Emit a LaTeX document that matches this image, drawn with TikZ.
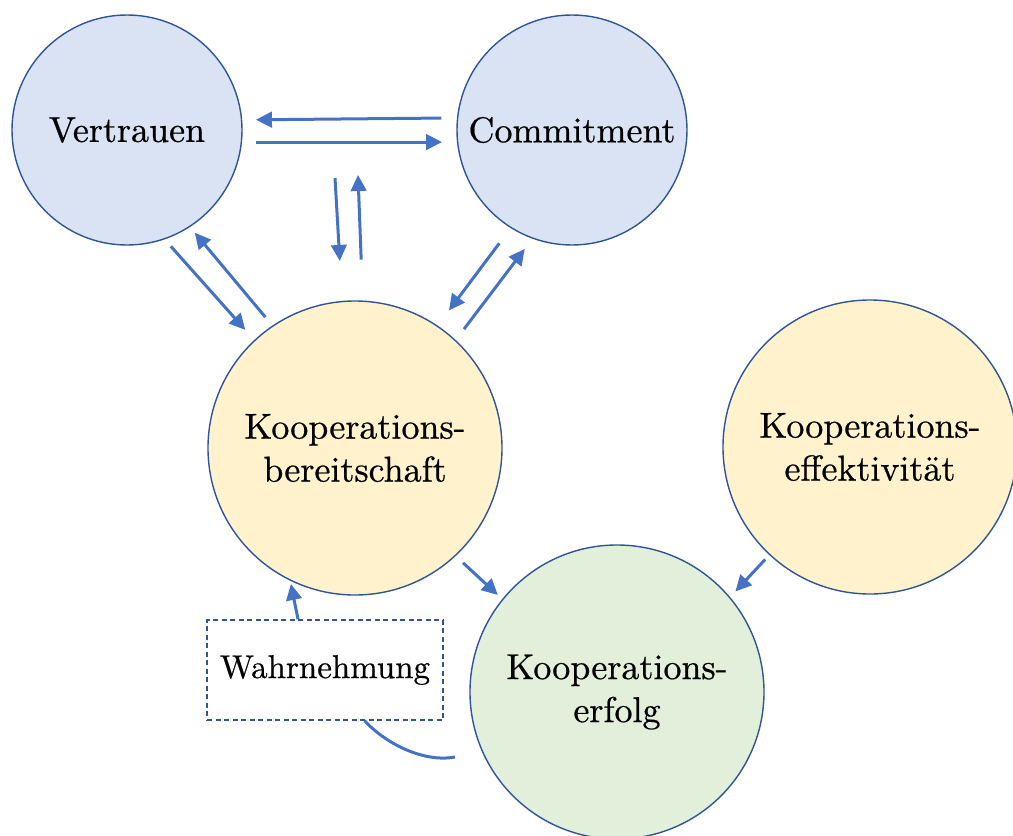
\documentclass[tikz,border=0pt]{standalone}
\usepackage{fontspec}
\usetikzlibrary{arrows.meta,calc}
\newfontfamily\labelfont{lmroman10-regular}[Extension=.otf, FakeBold=0.6]
\definecolor{linkblue}{HTML}{4472C4}
\definecolor{rimblue}{HTML}{2F5597}
\definecolor{fillblue}{HTML}{DAE3F3}
\definecolor{fillyellow}{HTML}{FFF2CC}
\definecolor{fillgreen}{HTML}{E2EFDA}
\begin{document}
\begin{tikzpicture}[x=1pt,y=-1pt,
  bubble/.style={circle, draw=rimblue, line width=1.4pt, inner sep=0pt,
    align=center, font=\labelfont\fontsize{36}{43}\selectfont},
  small/.style={bubble, minimum size=230pt},
  big/.style={bubble, minimum size=294pt},
  link/.style={draw=linkblue, line width=3pt, -{Triangle[length=16pt,width=15.5pt]}},
  plain/.style={draw=linkblue, line width=3pt},
  notebox/.style={draw=rimblue, dash pattern=on 5pt off 3.5pt, line width=1.4pt,
    minimum width=236pt, minimum height=100pt, inner sep=0pt,
    font=\labelfont\fontsize{33}{40}\selectfont}]
\useasboundingbox (0,0) rectangle (1013,836);

% concepts
\node[small, fill=fillblue] (vertrauen) at (127,130) {Vertrauen};
\node[small, fill=fillblue] (commitment) at (572,130) {Commitment};
\node[big, fill=fillyellow] (bereit) at (355,448) {Kooperations-\\bereitschaft};
\node[big, fill=fillyellow] (effekt) at (870,447) {Kooperations-\\effektivität};
\node[big, fill=fillgreen] (erfolg) at (617,692) {Kooperations-\\erfolg};
\node[notebox] (wahr) at (325,670) {Wahrnehmung};

% free ends between the top pair and Kooperationsbereitschaft
\coordinate (pairdown) at (335,178);
\coordinate (pairup) at (358,175);
\coordinate (feedback) at (455,757);

% Vertrauen <-> Commitment
\draw[link, shorten <=15.6pt, shorten >=13.7pt] (commitment.174.3) -- (vertrauen.5.8);
\draw[link, shorten <=13.9pt, shorten >=14.9pt] (vertrauen.-6.7) -- (commitment.186.6);

% pair <-> Kooperationsbereitschaft
\draw[link, shorten >=40pt] (pairdown) -- (bereit.95.5);
\draw[link, shorten <=41pt] (bereit.87.9) -- (pairup);

% Vertrauen <-> Kooperationsbereitschaft
\draw[link, shorten <=9.3pt, shorten >=13.5pt] (vertrauen.-71.7) -- (bereit.133.7);
\draw[link, shorten <=11pt, shorten >=7.3pt] (bereit.124.7) -- (vertrauen.-57.3);

% Commitment <-> Kooperationsbereitschaft
\draw[link, shorten <=19pt, shorten >=18.9pt] (commitment.-122.5) -- (bereit.56.3);
\draw[link, shorten <=13.6pt, shorten >=12.8pt] (bereit.47.3) -- (commitment.-110.1);

% into Kooperationserfolg
\draw[link, shorten <=10pt, shorten >=6pt] (bereit.-47.1) -- (erfolg.141.6);
\draw[link, shorten <=6pt, shorten >=7.7pt] (effekt.-133.9) -- (erfolg.40.3);

% perception loop
\draw[link, shorten >=3.3pt] (wahr.118.4) -- (bereit.-116.9);
\draw[plain] (wahr.-52.8) .. controls +(20,22) and +(-32,6) .. (feedback);
\end{tikzpicture}
\end{document}
